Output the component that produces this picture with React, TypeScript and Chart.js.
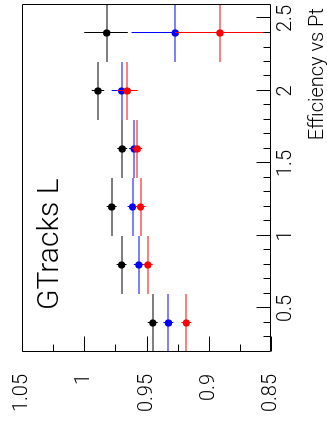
import React, { useEffect, useRef } from "react";
import { Chart, registerables } from "chart.js";

Chart.register(...registerables);

// ---- data ----
const ptCenters = [0.4, 0.8, 1.2, 1.6, 2.0, 2.4];
const ptHalfWidth = [0.2, 0.2, 0.2, 0.2, 0.2, 0.2];

const effBlack = [0.945, 0.97, 0.978, 0.9695, 0.989, 0.982];
const effBlackErrUp = [0.004, 0.004, 0.004, 0.004, 0.005, 0.018];
const effBlackErrDown = [0.004, 0.004, 0.004, 0.004, 0.005, 0.017];

const effBlue = [0.9324, 0.9562, 0.9612, 0.96, 0.97, 0.927];
const effBlueErrUp = [0.004, 0.004, 0.004, 0.004, 0.008, 0.035];
const effBlueErrDown = [0.004, 0.004, 0.004, 0.004, 0.008, 0.035];

const effRed = [0.918, 0.949, 0.9548, 0.9575, 0.9655, 0.891];
const effRedErrUp = [0.004, 0.004, 0.004, 0.004, 0.0085, 0.036];
const effRedErrDown = [0.004, 0.004, 0.004, 0.004, 0.0085, 0.045];

const xTickValues = [0.5, 1, 1.5, 2, 2.5];
const xTickLabels = ["0.5", "1", "1.5", "2", "2.5"];
const xMinorTicks = [0.3, 0.4, 0.6, 0.7, 0.8, 0.9, 1.1, 1.2, 1.3, 1.4, 1.6, 1.7, 1.8, 1.9, 2.1, 2.2, 2.3, 2.4];
const yTickValues = [0.85, 0.9, 0.95, 1, 1.05];
const yTickLabels = ["0.85", "0.9", "0.95", "1", "1.05"];
const yMinorTicks = [0.875, 0.925, 0.975, 1.025];

const titleText = "Efficiency vs Pt";
const labelText = "GTracks L";

const FONT = "Roboto, 'Liberation Sans', Arial, sans-serif";
const WEIGHT = 300;

const errorBarsPlugin = {
  id: "errorBars",
  beforeDatasetDraw(chart: any, args: any) {
    const ds: any = chart.data.datasets[args.index];
    const xs = chart.scales.x;
    const ys = chart.scales.y;
    const ctx = chart.ctx;
    const area = chart.chartArea;
    ctx.save();
    ctx.beginPath();
    ctx.rect(area.left, area.top, area.right - area.left, area.bottom - area.top);
    ctx.clip();
    ctx.strokeStyle = ds.barColor;
    ctx.lineWidth = 1;
    ds.data.forEach((p: any, i: number) => {
      const cx = xs.getPixelForValue(p.x);
      const cy = ys.getPixelForValue(p.y);
      // Pt bin width
      const x0 = xs.getPixelForValue(p.x - ds.xErr[i]);
      const x1 = xs.getPixelForValue(p.x + ds.xErr[i]);
      const yy = Math.round(cy);
      ctx.beginPath();
      ctx.moveTo(x0, yy);
      ctx.lineTo(x1, yy);
      ctx.stroke();
      // efficiency error
      const xx = Math.floor(cx) + 0.5;
      const y0 = ys.getPixelForValue(p.y + ds.yErrUp[i]);
      const y1 = ys.getPixelForValue(p.y - ds.yErrDown[i]);
      ctx.beginPath();
      ctx.moveTo(xx, y0);
      ctx.lineTo(xx, y1);
      ctx.stroke();
    });
    ctx.restore();
  },
  afterDraw(chart: any) {
    const ctx = chart.ctx;
    const xs = chart.scales.x;
    const ys = chart.scales.y;
    const a = chart.chartArea;
    ctx.save();
    ctx.strokeStyle = "#000";
    ctx.lineWidth = 1;
    const L = Math.round(a.left) + 0.5;
    const R = Math.round(a.right) - 0.5;
    const T = Math.round(a.top) + 0.5;
    const B = Math.round(a.bottom) - 0.5;
    ctx.beginPath();
    ctx.rect(L, T, R - L, B - T);
    ctx.stroke();
    // x ticks (inward from bottom)
    ctx.beginPath();
    xTickValues.forEach((v) => {
      const px = Math.round(xs.getPixelForValue(v)) + 0.5;
      ctx.moveTo(px, B);
      ctx.lineTo(px, B - 14);
    });
    xMinorTicks.forEach((v) => {
      const px = Math.round(xs.getPixelForValue(v)) + 0.5;
      ctx.moveTo(px, B);
      ctx.lineTo(px, B - 7);
    });
    // y ticks (inward from left)
    yTickValues.forEach((v) => {
      const py = Math.round(ys.getPixelForValue(v)) + 0.5;
      ctx.moveTo(L, py);
      ctx.lineTo(L + 15, py);
    });
    yMinorTicks.forEach((v) => {
      const py = Math.round(ys.getPixelForValue(v)) + 0.5;
      ctx.moveTo(L, py);
      ctx.lineTo(L + 7, py);
    });
    ctx.stroke();
    // texts
    ctx.fillStyle = "#000";
    ctx.font = `${WEIGHT} 20px ${FONT}`;
    ctx.textAlign = "right";
    ctx.textBaseline = "alphabetic";
    ctx.fillText(titleText, 424, 323);
    ctx.font = `${WEIGHT} 30px ${FONT}`;
    ctx.textAlign = "left";
    ctx.fillText(labelText, 122, 58);
    ctx.restore();
  },
};

export default function App() {
  const ref = useRef<HTMLCanvasElement | null>(null);
  useEffect(() => {
    if (!ref.current) return;
    const mk = (xsArr: number[], ysArr: number[]) => xsArr.map((x, i) => ({ x, y: ysArr[i] }));
    const chart = new Chart(ref.current, {
      type: "scatter",
      data: {
        datasets: [
          {
            label: "black",
            data: mk(ptCenters, effBlack),
            backgroundColor: "#000",
            pointRadius: 3.6,
            pointBorderWidth: 0,
            order: 3,
            barColor: "#000",
            xErr: ptHalfWidth,
            yErrUp: effBlackErrUp,
            yErrDown: effBlackErrDown,
          } as any,
          {
            label: "blue",
            data: mk(ptCenters, effBlue),
            backgroundColor: "#0000ff",
            pointRadius: 3.6,
            pointBorderWidth: 0,
            order: 2,
            barColor: "#0000ff",
            xErr: ptHalfWidth,
            yErrUp: effBlueErrUp,
            yErrDown: effBlueErrDown,
          } as any,
          {
            label: "red",
            data: mk(ptCenters, effRed),
            backgroundColor: "#ff0000",
            pointRadius: 3.6,
            pointBorderWidth: 0,
            order: 1,
            barColor: "#ff0000",
            xErr: ptHalfWidth,
            yErrUp: effRedErrUp,
            yErrDown: effRedErrDown,
          } as any,
        ],
      },
      options: {
        responsive: false,
        animation: false,
        devicePixelRatio: 1,
        layout: { padding: { top: 22, right: 3, left: 0, bottom: 0 } },
        plugins: { legend: { display: false }, tooltip: { enabled: false } },
        scales: {
          x: {
            type: "linear",
            position: "bottom",
            min: 0.2,
            max: 2.6,
            grid: { display: false, drawTicks: false },
            border: { display: false },
            afterBuildTicks: (s: any) => {
              s.ticks = xTickValues.map((v) => ({ value: v }));
            },
            afterFit: (s: any) => {
              s.height = 56;
              s.paddingLeft = 0;
              s.paddingRight = 0;
            },
            ticks: {
              autoSkip: false,
              maxRotation: 0,
              minRotation: 0,
              padding: 3,
              color: "#000",
              font: { family: FONT, size: 20, weight: WEIGHT },
              callback: (_v: any, i: number) => xTickLabels[i],
            },
          },
          y: {
            type: "linear",
            position: "left",
            min: 0.85,
            max: 1.05,
            grid: { display: false, drawTicks: false },
            border: { display: false },
            afterBuildTicks: (s: any) => {
              s.ticks = yTickValues.map((v) => ({ value: v }));
            },
            afterFit: (s: any) => {
              s.width = 80;
              s.paddingTop = 0;
              s.paddingBottom = 0;
            },
            ticks: {
              autoSkip: false,
              padding: 22,
              color: "#000",
              font: { family: FONT, size: 20, weight: WEIGHT },
              callback: (_v: any, i: number) => yTickLabels[i],
            },
          },
        },
      } as any,
      plugins: [errorBarsPlugin],
    });
    return () => chart.destroy();
  }, []);

  return (
    <div
      style={{
        position: "absolute",
        left: 0,
        top: 0,
        width: 327,
        height: 432,
        overflow: "hidden",
        background: "#fff",
      }}
    >
      <div
        style={{
          position: "absolute",
          left: 0,
          top: 0,
          width: 432,
          height: 327,
          transformOrigin: "0 0",
          transform: "translate(0px, 432px) rotate(-90deg)",
        }}
      >
        <canvas ref={ref} width={432} height={327} style={{ width: 432, height: 327, display: "block" }} />
      </div>
    </div>
  );
}
